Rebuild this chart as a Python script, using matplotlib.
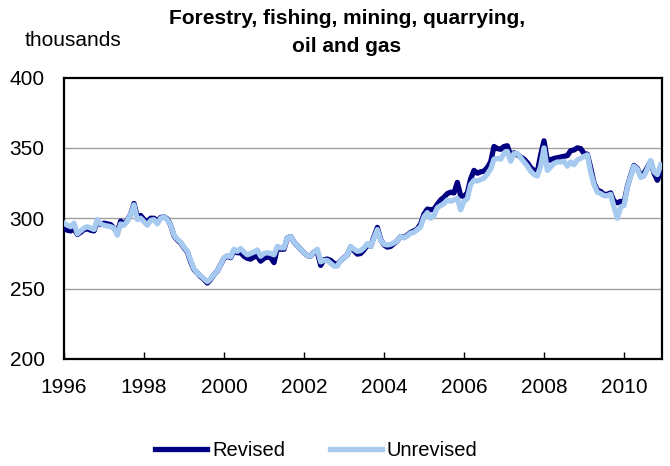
import numpy as np
import matplotlib
matplotlib.use('Agg')
import matplotlib.pyplot as plt
from matplotlib.lines import Line2D

plt.rcParams['font.family'] = ['Liberation Sans', 'DejaVu Sans']

# monthly employment, thousands, Jan 1996 - Dec 2010
revised = [
  293, 291.5, 291, 292.5, 288.5, 290, 292, 292.5, 291.5, 291, 298, 295.5,          # 1996
  296.5, 296, 295.5, 293, 290, 298, 296, 298.5, 303, 310.5, 301, 302,             # 1997
  299, 297.5, 300, 300, 298, 300.5, 301, 299.5, 295, 287.5, 284.5, 282.5,         # 1998
  279, 276, 269, 263.5, 261, 258.5, 256.5, 254, 256.5, 260, 262.5, 267,           # 1999
  271.5, 273, 272, 277, 275.5, 275.5, 273, 271.5, 271, 272.5, 273, 269.5,         # 2000
  271.5, 272.5, 272, 268.5, 279, 278, 278, 286, 287, 283, 280.5, 278,             # 2001
  275.5, 273.5, 273, 276, 276, 266.5, 270.5, 271, 270, 268, 267, 270,             # 2002
  272, 274, 279.5, 277, 274.5, 275, 277.5, 281, 280, 287, 293.5, 285,             # 2003
  281, 279.5, 280, 282, 284, 287, 286.5, 288, 290, 291, 292.5, 296,               # 2004
  303, 306.5, 306, 306.5, 310, 313, 315, 317.5, 318.5, 318, 325.5, 316,           # 2005
  315.5, 318, 328, 334, 332, 333, 333.5, 336, 340, 351, 349.5, 349,               # 2006
  351, 351.5, 344.5, 346.5, 345, 343.5, 342, 339.5, 336, 334, 333, 345,           # 2007
  355, 341, 341.5, 342.5, 343, 343.5, 344, 344.5, 348, 348.5, 350, 349.5,         # 2008
  346, 345.5, 336, 325, 320, 319, 317, 317, 318, 312, 311, 312,                   # 2009
  311, 322.5, 330.5, 337.5, 335.5, 330, 332, 336, 340.5, 332, 327, 333,           # 2010
]
unrevised = [
  296.5, 295, 294, 296.5, 289, 291, 293, 294, 293, 292, 299, 296,                 # 1996
  295, 294.5, 294, 293, 288, 296, 295, 298, 303, 309.5, 299, 300,                 # 1997
  297.5, 295, 298.5, 299, 296, 300, 301, 299, 295, 288, 285, 283,                 # 1998
  279.5, 276.5, 270, 264, 261, 259, 257, 255, 257, 260, 262.5, 267,               # 1999
  272, 273.5, 272.5, 278, 276.5, 278.5, 276, 274, 275, 276, 277.5, 273,           # 2000
  275, 275.5, 275, 274, 280, 279, 279, 286, 287, 283, 280.5, 278,                 # 2001
  275.5, 273.5, 273, 276, 278, 269, 270, 270, 268, 266, 266, 270,                 # 2002
  272, 274, 280, 278, 276.5, 277, 279, 282, 280, 286, 292, 284.5,                 # 2003
  281.5, 281, 281.5, 282.5, 284, 287, 286, 287.5, 289.5, 290, 292, 294,           # 2004
  301, 304, 300, 302, 307.5, 309, 310.5, 313, 312, 313, 314, 306,                 # 2005
  312, 314, 324, 327, 326.5, 327.5, 328.5, 331.5, 335, 342, 342.5, 342,           # 2006
  346, 347.5, 340.5, 346, 346, 343, 340, 337, 333.5, 331, 330, 337,               # 2007
  350, 334, 336.5, 339, 340, 340, 340.5, 337, 340, 338, 341.5, 342.5,             # 2008
  344, 345, 333, 324, 318.5, 317.5, 316, 316, 317, 308, 300, 308,                 # 2009
  309, 322, 330, 337, 335, 329, 330, 335, 341, 333, 331, 338,                     # 2010
]
year_ticks = [1996, 1998, 2000, 2002, 2004, 2006, 2008, 2010]
y_ticks = [200, 250, 300, 350, 400]

navy = '#000080'
light = '#A6CAF0'

months = 1996 + np.arange(len(revised)) / 12.0

fig = plt.figure(figsize=(6.7, 4.66), dpi=100)
ax = fig.add_axes([64/670, 107/466, 598/670, 281.5/466])

ax.plot(months, revised, color=navy, lw=3.8, solid_joinstyle='round', zorder=3)
ax.plot(months, unrevised, color=light, lw=3.8, solid_joinstyle='round', zorder=4)

ax.set_xlim(1996, 1996 + 179.4/12)
ax.set_ylim(200, 400)
ax.set_yticks(y_ticks)
ax.set_xticks(year_ticks)
ax.set_xticklabels([str(y) for y in year_ticks])
for v in y_ticks[1:-1]:
  ax.axhline(v, color='#A0A0A0', lw=1.0, zorder=1)

for s in ax.spines.values():
  s.set_linewidth(1.6)
  s.set_color('black')
ax.tick_params(axis='x', direction='in', length=5, width=1, pad=14, labelsize=15)
ax.tick_params(axis='y', length=0, pad=14, labelsize=15)

fig.text(347/670, 1 - 18/466, 'Forestry, fishing, mining, quarrying,', ha='center', va='center',
         fontsize=15, fontweight='bold')
fig.text(347/670, 1 - 46/466, 'oil and gas', ha='center', va='center',
         fontsize=15, fontweight='bold')
fig.text(25/670, 1 - 40/466, 'thousands', ha='left', va='center', fontsize=15)

handles = [Line2D([], [], color=navy, lw=3.8), Line2D([], [], color=light, lw=3.8)]
fig.legend(handles, ['Revised', 'Unrevised'], loc='center', bbox_to_anchor=(0.472, 1 - 451/466),
           ncol=2, frameon=False, fontsize=14.5, handlelength=2.6, handletextpad=0.25,
           columnspacing=2.2)

fig.savefig('out.png', dpi=100)
